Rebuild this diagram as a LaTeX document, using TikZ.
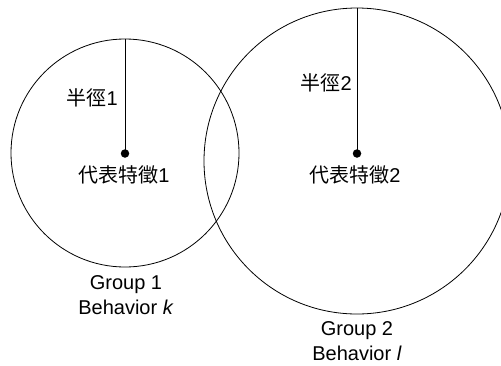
\documentclass[tikz,border=0pt]{standalone}
\usepackage{fontspec}
\setmainfont{Liberation Sans}
\newfontfamily\cjk{Noto Sans CJK TC}
\begin{document}
\begin{tikzpicture}[x=1pt,y=-1pt,
  ring/.style={circle,draw,line width=0.8pt,inner sep=0pt},
  dotmark/.style={circle,fill=black,inner sep=0pt,minimum size=8.5pt},
  lbl/.style={font=\fontsize{20}{25}\selectfont,inner sep=0pt},
  grouplbl/.style={font=\fontsize{20}{25}\selectfont,align=center,inner sep=0pt}]
\useasboundingbox (0,0) rectangle (501,365);
\clip (0,0) rectangle (501,365);
\node[ring,minimum size=228pt] (c1) at (125,153) {};
\node[ring,minimum size=306pt] (c2) at (357,161) {};
\node[dotmark] (d1) at (125,153.5) {};
\node[dotmark] (d2) at (357,153.5) {};
\draw[line width=0.8pt] (c1.north) -- (d1.center);
\draw[line width=0.8pt] (c2.north) -- (d2.center);
\node[lbl,anchor=east] (r1) at (118,98) {{\cjk 半徑}1};
\node[lbl,anchor=east] (r2) at (352,83) {{\cjk 半徑}2};
\node[lbl] (f1) at (124,175) {{\cjk 代表特徵}1};
\node[lbl] (f2) at (355,175) {{\cjk 代表特徵}2};
\node[grouplbl] (g1) at (126,295.5) {Group 1\\Behavior \textit{k}};
\node[grouplbl] (g2) at (357,341.5) {Group 2\\Behavior \textit{l}};
\end{tikzpicture}
\end{document}
